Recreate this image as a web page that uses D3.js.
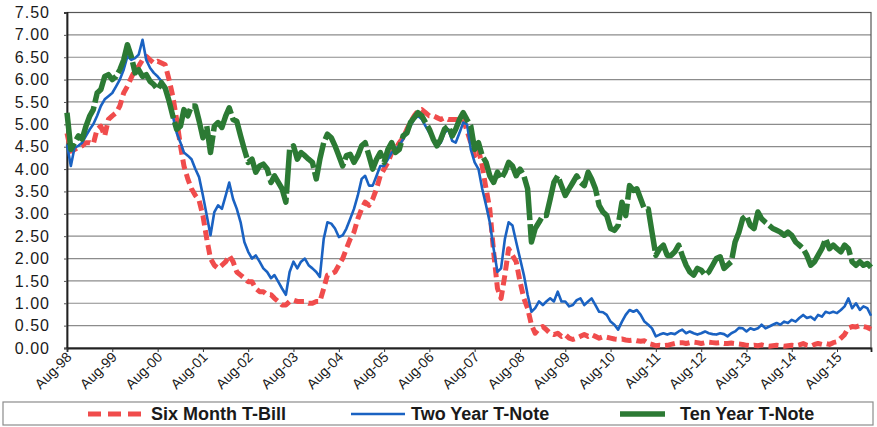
<!DOCTYPE html>
<html>
<head>
<meta charset="utf-8">
<script src="https://cdn.jsdelivr.net/npm/d3@7"></script>
<style>
  body { margin: 0; background: #fff; }
  svg { display: block; }
</style>
</head>
<body>
<svg id="chart" width="877" height="427"></svg>
<script>
// monthly readings, first point Aug-98
const firstMonth = new Date(1998, 7, 1);
const lastMonth = new Date(2016, 4, 1);

const sixMonthBill = [
  4.80, 4.40, 4.44, 4.48, 4.52, 4.59, 4.59, 4.56, 4.89, 4.96,
  4.74, 5.11, 5.19, 5.26, 5.41, 5.70, 5.85, 6.04, 6.22, 6.30,
  6.44, 6.52, 6.44, 6.37, 6.41, 6.37, 6.33, 6.00, 5.63, 5.11,
  4.52, 4.07, 3.78, 3.56, 3.41, 3.30, 2.96, 2.44, 2.00, 1.85,
  1.78, 1.85, 1.93, 2.07, 1.93, 1.70, 1.63, 1.56, 1.48, 1.48,
  1.33, 1.26, 1.26, 1.19, 1.19, 1.11, 1.04, 0.96, 0.96, 1.04,
  1.07, 1.04, 1.04, 1.04, 1.00, 1.00, 1.04, 1.04, 1.33, 1.63,
  1.66, 1.70, 1.85, 2.00, 2.22, 2.44, 2.59, 2.89, 3.11, 3.26,
  3.19, 3.33, 3.56, 3.85, 4.00, 4.15, 4.37, 4.44, 4.59, 4.70,
  4.89, 5.04, 5.19, 5.30, 5.33, 5.26, 5.19, 5.19, 5.15, 5.11,
  5.15, 5.11, 5.11, 5.11, 5.11, 5.11, 4.85, 4.59, 4.30, 4.44,
  4.07, 3.56, 3.11, 2.15, 1.33, 1.11, 1.63, 2.22, 2.07, 1.93,
  1.48, 1.11, 0.89, 0.52, 0.33, 0.44, 0.48, 0.41, 0.33, 0.30,
  0.33, 0.26, 0.30, 0.22, 0.19, 0.22, 0.26, 0.30, 0.26, 0.30,
  0.26, 0.22, 0.25, 0.24, 0.22, 0.20, 0.19, 0.20, 0.18, 0.17,
  0.18, 0.16, 0.15, 0.16, 0.10, 0.08, 0.05, 0.06, 0.05, 0.06,
  0.08, 0.10, 0.12, 0.12, 0.10, 0.12, 0.13, 0.12, 0.10, 0.12,
  0.13, 0.12, 0.11, 0.12, 0.10, 0.10, 0.11, 0.10, 0.09, 0.08,
  0.06, 0.05, 0.06, 0.05, 0.07, 0.05, 0.04, 0.05, 0.06, 0.05,
  0.04, 0.05, 0.06, 0.05, 0.07, 0.10, 0.06, 0.04, 0.08, 0.10,
  0.08, 0.10, 0.08, 0.12, 0.14, 0.22, 0.30, 0.45, 0.48, 0.47,
  0.50, 0.48, 0.46, 0.42
];

const twoYearNote = [
  4.55, 4.07, 4.48, 4.52, 4.59, 4.74, 4.89, 5.00, 5.19, 5.41,
  5.56, 5.63, 5.70, 5.85, 6.00, 6.22, 6.52, 6.44, 6.48, 6.56,
  6.89, 6.44, 6.26, 6.15, 6.07, 5.96, 5.81, 5.56, 5.19, 4.81,
  4.59, 4.37, 4.30, 4.22, 4.00, 3.82, 3.41, 2.96, 2.52, 3.04,
  3.19, 3.11, 3.41, 3.70, 3.33, 3.11, 2.81, 2.37, 2.15, 2.00,
  2.07, 1.93, 1.78, 1.70, 1.56, 1.63, 1.48, 1.33, 1.19, 1.70,
  1.93, 1.78, 1.93, 2.00, 1.85, 1.78, 1.70, 1.59, 2.44, 2.81,
  2.78, 2.67, 2.48, 2.52, 2.67, 2.89, 3.11, 3.41, 3.78, 3.85,
  3.63, 3.63, 3.85, 4.07, 4.07, 4.22, 4.37, 4.44, 4.52, 4.67,
  4.81, 4.96, 5.11, 5.19, 5.11, 4.96, 4.81, 4.67, 4.52, 4.59,
  4.81, 4.89, 4.63, 4.59, 4.81, 5.04, 5.00, 4.44, 4.15, 4.00,
  3.56, 3.19, 2.81, 2.22, 1.70, 1.78, 2.44, 2.81, 2.74, 2.37,
  2.00, 1.63, 1.19, 0.81, 0.89, 1.04, 0.96, 1.04, 1.11, 1.04,
  1.26, 1.04, 1.04, 0.93, 0.96, 1.07, 1.11, 0.96, 1.04, 1.11,
  0.96, 0.81, 0.80, 0.74, 0.59, 0.52, 0.41, 0.59, 0.74, 0.85,
  0.81, 0.85, 0.74, 0.59, 0.52, 0.44, 0.26, 0.30, 0.33, 0.30,
  0.33, 0.31, 0.37, 0.41, 0.33, 0.37, 0.33, 0.30, 0.33, 0.37,
  0.33, 0.31, 0.30, 0.33, 0.31, 0.26, 0.33, 0.37, 0.45, 0.44,
  0.37, 0.44, 0.41, 0.44, 0.52, 0.44, 0.48, 0.52, 0.56, 0.52,
  0.59, 0.56, 0.63, 0.59, 0.67, 0.74, 0.67, 0.70, 0.63, 0.74,
  0.70, 0.81, 0.78, 0.81, 0.78, 0.85, 0.93, 1.11, 0.89, 1.00,
  0.85, 0.93, 0.89, 0.72
];

const tenYearNote = [
  5.26, 4.44, 4.59, 4.74, 4.67, 4.96, 5.19, 5.33, 5.70, 5.78,
  6.07, 6.11, 6.00, 6.07, 6.22, 6.44, 6.78, 6.52, 6.15, 6.22,
  6.07, 6.11, 5.96, 5.89, 5.78, 5.93, 5.81, 5.52, 5.19, 4.89,
  4.96, 5.33, 5.19, 5.41, 5.41, 5.08, 4.70, 4.96, 4.37, 4.96,
  5.04, 4.93, 5.19, 5.37, 5.11, 5.07, 4.74, 4.44, 4.15, 4.22,
  3.93, 4.07, 4.11, 4.00, 3.70, 3.85, 3.70, 3.56, 3.26, 4.44,
  4.52, 4.22, 4.37, 4.30, 4.22, 4.15, 3.78, 4.22, 4.59, 4.78,
  4.70, 4.52, 4.30, 4.07, 4.30, 4.33, 4.15, 4.30, 4.52, 4.59,
  4.30, 4.00, 4.22, 4.37, 4.15, 4.44, 4.59, 4.37, 4.44, 4.74,
  4.81, 5.04, 5.15, 5.26, 5.19, 5.04, 4.89, 4.67, 4.52, 4.67,
  4.89, 4.96, 4.74, 4.89, 5.11, 5.26, 5.10, 4.96, 4.44, 4.59,
  4.30, 4.15, 3.85, 3.70, 3.93, 3.78, 3.93, 4.15, 4.07, 3.85,
  4.00, 3.85, 3.56, 2.37, 2.67, 2.81, 2.96, 2.96, 3.33, 3.70,
  3.85, 3.63, 3.41, 3.56, 3.70, 3.85, 3.70, 3.63, 3.93, 3.78,
  3.56, 3.19, 3.04, 2.96, 2.67, 2.63, 2.74, 3.26, 2.96, 3.63,
  3.52, 3.56, 3.33, 3.11, 3.11, 2.59, 2.07, 2.22, 2.30, 2.07,
  2.07, 2.15, 2.30, 2.07, 1.85, 1.70, 1.63, 1.78, 1.74, 1.63,
  1.70, 1.85, 2.00, 2.04, 1.78, 1.85, 1.93, 2.37, 2.59, 2.89,
  2.96, 2.74, 2.67, 3.04, 2.89, 2.81, 2.74, 2.67, 2.63, 2.59,
  2.52, 2.59, 2.52, 2.37, 2.30, 2.22, 2.07, 1.85, 1.93, 2.07,
  2.22, 2.44, 2.22, 2.30, 2.22, 2.15, 2.30, 2.22, 1.93, 1.85,
  1.93, 1.85, 1.89, 1.80
];

const yTickValues = [0, 0.5, 1, 1.5, 2, 2.5, 3, 3.5, 4, 4.5, 5, 5.5, 6, 6.5, 7, 7.5];
const xTickYears = [1998, 1999, 2000, 2001, 2002, 2003, 2004, 2005, 2006, 2007,
                    2008, 2009, 2010, 2011, 2012, 2013, 2014, 2015];

const seriesNames = ['Six Month T-Bill', 'Two Year T-Note', 'Ten Year T-Note'];

const plotLeft = 67, plotRight = 871, plotTop = 12.5, plotBottom = 348;

const svg = d3.select('#chart');

const x = d3.scaleTime().domain([firstMonth, lastMonth]).range([plotLeft, plotRight]);
const y = d3.scaleLinear().domain([0, 7.5]).range([plotBottom, plotTop]);

const toPoints = vals => vals.map((v, i) => ({ date: d3.timeMonth.offset(firstMonth, i), v }));

// gridlines
svg.append('g')
  .selectAll('line')
  .data(yTickValues.filter(v => v > 0))
  .join('line')
  .attr('x1', plotLeft).attr('x2', plotRight)
  .attr('y1', d => y(d)).attr('y2', d => y(d))
  .attr('stroke', '#8c8c8c')
  .attr('stroke-width', 1.2);

// frame
svg.append('rect')
  .attr('x', plotLeft).attr('y', plotTop)
  .attr('width', plotRight - plotLeft).attr('height', plotBottom - plotTop)
  .attr('fill', 'none')
  .attr('stroke', '#555')
  .attr('stroke-width', 1.2);

// y axis
const yAxis = svg.append('g')
  .attr('transform', `translate(${plotLeft},0)`)
  .call(d3.axisLeft(y).tickValues(yTickValues).tickFormat(d3.format('.2f')).tickSize(3).tickPadding(14));
yAxis.select('.domain').attr('stroke', '#222').attr('stroke-width', 1.8);
yAxis.selectAll('line').attr('stroke', '#555');
yAxis.selectAll('text')
  .attr('font-family', 'Liberation Sans, Arial, sans-serif')
  .attr('font-size', 16)
  .attr('letter-spacing', 1)
  .attr('fill', '#1a1a1a');

// x axis
const xAxis = svg.append('g')
  .attr('transform', `translate(0,${plotBottom})`)
  .call(d3.axisBottom(x)
    .tickValues(xTickYears.map(yr => new Date(yr, 7, 1)))
    .tickFormat(d3.timeFormat('%b-%y'))
    .tickSize(4));
xAxis.select('.domain').attr('stroke', '#222').attr('stroke-width', 1.8);
xAxis.selectAll('line').attr('stroke', '#333');
xAxis.selectAll('text')
  .attr('font-family', 'Liberation Sans, Arial, sans-serif')
  .attr('font-size', 14)
  .attr('fill', '#1a1a1a')
  .attr('text-anchor', 'end')
  .attr('dy', null)
  .attr('y', 0)
  .attr('transform', 'translate(5,10) rotate(-45)');

const line = d3.line()
  .x(d => x(d.date))
  .y(d => y(d.v));

const styles = [
  { data: sixMonthBill, color: '#f04c4c', width: 5, dash: '10,5' },
  { data: twoYearNote, color: '#1a62c2', width: 2.6, dash: null },
  { data: tenYearNote, color: '#2c7a34', width: 5.5, dash: '44,4' }
];

styles.forEach(s => {
  svg.append('path')
    .datum(toPoints(s.data))
    .attr('d', line)
    .attr('fill', 'none')
    .attr('stroke', s.color)
    .attr('stroke-width', s.width)
    .attr('stroke-linejoin', 'round')
    .attr('stroke-dasharray', s.dash);
});

// legend
const legend = svg.append('g');
legend.append('rect')
  .attr('x', 3).attr('y', 402).attr('width', 870).attr('height', 23)
  .attr('fill', '#fff').attr('stroke', '#8c8c8c').attr('stroke-width', 1.2);

const legendX = [[88, 146, 151], [351, 405, 411], [620, 665, 680]];
seriesNames.forEach((name, i) => {
  const s = styles[i];
  const [x1, x2, tx] = legendX[i];
  legend.append('line')
    .attr('x1', x1).attr('x2', x2).attr('y1', 414).attr('y2', 414)
    .attr('stroke', s.color)
    .attr('stroke-width', s.width)
    .attr('stroke-dasharray', i === 0 ? '13,7' : null);
  legend.append('text')
    .attr('x', tx).attr('y', 414).attr('dy', '0.36em')
    .attr('font-family', 'Liberation Sans Narrow, Arial Narrow, Liberation Sans, sans-serif')
    .attr('font-weight', 'bold')
    .attr('font-size', 18)
    .attr('fill', '#1a1a1a')
    .text(name);
});
</script>
</body>
</html>
